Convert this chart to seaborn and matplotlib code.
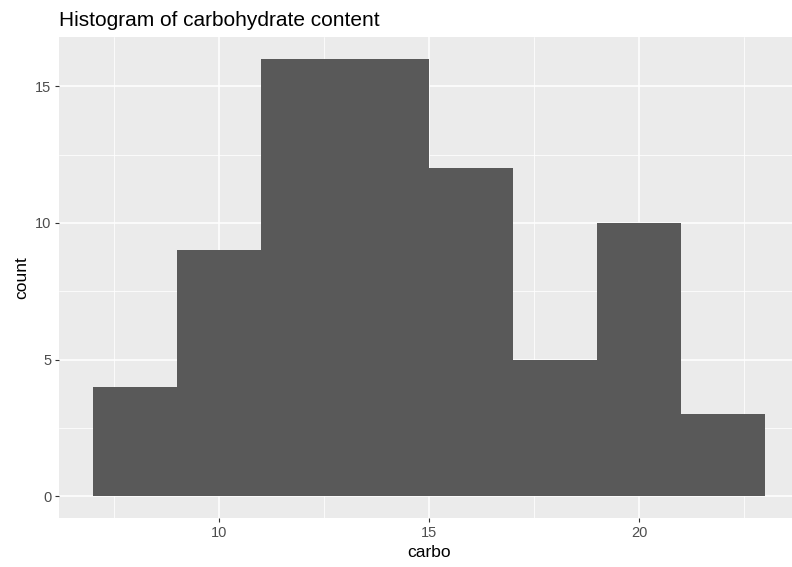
import numpy as np
import pandas as pd
import seaborn as sns
import matplotlib.pyplot as plt
from matplotlib.ticker import MultipleLocator

# Histogram bins (width 2) and counts
bin_edges = [7, 9, 11, 13, 15, 17, 19, 21, 23]
bin_counts = [4, 9, 16, 16, 12, 5, 10, 3]

bin_centers = [(a + b) / 2 for a, b in zip(bin_edges[:-1], bin_edges[1:])]
df = pd.DataFrame({'carbo': bin_centers, 'n': bin_counts})

sns.set_style("darkgrid", {
    "axes.facecolor": "#EBEBEB",
    "grid.color": "white",
    "axes.edgecolor": "none",
})
plt.rcParams['font.family'] = ['Liberation Sans', 'DejaVu Sans']

fig = plt.figure(figsize=(7.92, 5.67), dpi=100)
ax = fig.add_axes([0.0751, 0.0864, 0.9335, 0.8483])

sns.histplot(data=df, x='carbo', weights='n', bins=bin_edges,
             color='#595959', alpha=1, edgecolor='none', linewidth=0, ax=ax)

ax.set_xlim(6.2, 23.8)
ax.set_ylim(-0.8, 16.8)

ax.xaxis.set_major_locator(MultipleLocator(5))
ax.xaxis.set_minor_locator(MultipleLocator(2.5))
ax.yaxis.set_major_locator(MultipleLocator(5))
ax.yaxis.set_minor_locator(MultipleLocator(2.5))
ax.grid(which='major', color='white', linewidth=1.1)
ax.grid(which='minor', color='white', linewidth=0.55)
ax.set_axisbelow(True)

ax.tick_params(which='major', length=3, width=0.8, color='#333333',
               labelcolor='#4D4D4D', labelsize=10.5, pad=3,
               bottom=True, left=True)
ax.tick_params(which='minor', length=0)

ax.set_xlabel('carbo', fontsize=12.5, color='black', labelpad=3)
ax.set_ylabel('count', fontsize=12.5, color='black', labelpad=4)
ax.set_title('Histogram of carbohydrate content', loc='left',
             fontsize=15, color='black', pad=8)

for s in ax.spines.values():
    s.set_visible(False)

fig.savefig('out.png', dpi=100)
